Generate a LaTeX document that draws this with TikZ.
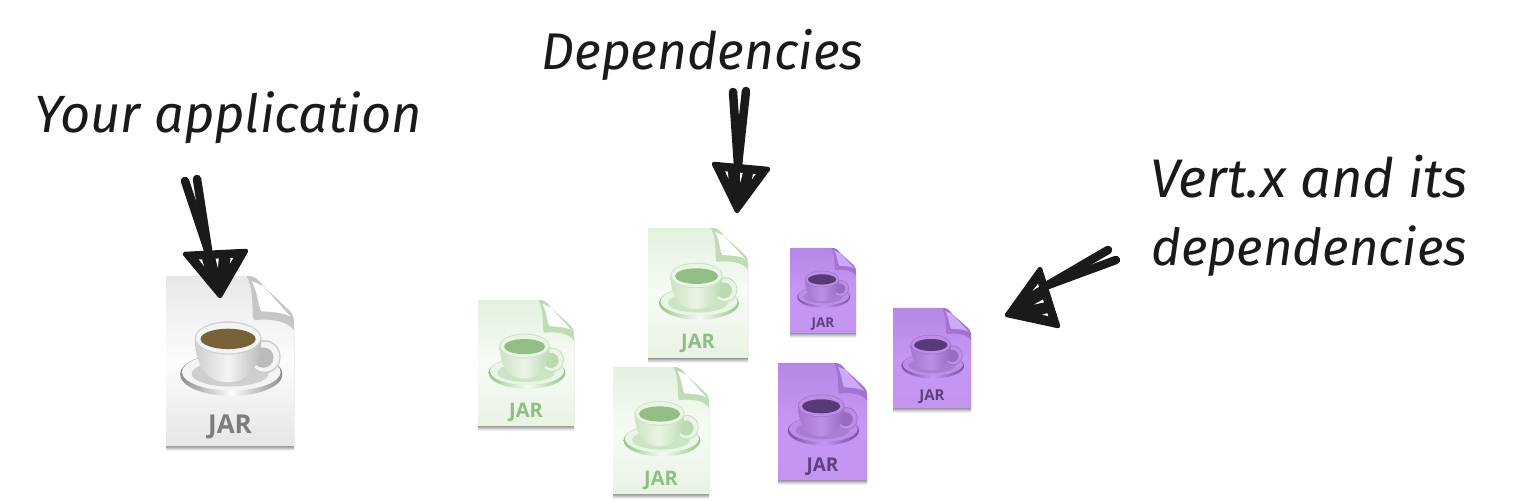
\documentclass[tikz,border=0pt]{standalone}
\usepackage{fontspec}
\setmainfont{Fira Sans}
\newfontfamily\jarfont{Open Sans}
\usetikzlibrary{calc}
\definecolor{wTop}{HTML}{E8E8E8}\definecolor{wMid}{HTML}{FCFCFC}\definecolor{wBot}{HTML}{E6E6E6}
\definecolor{wFold}{HTML}{FFFFFF}\definecolor{wFoldD}{HTML}{BCBCBC}\definecolor{wCupL}{HTML}{F4F4F4}\definecolor{wCupD}{HTML}{8C8C8C}
\definecolor{wSauc}{HTML}{CFCFCF}\definecolor{wCof}{HTML}{7A6238}\definecolor{wTxt}{HTML}{7C7C7C}
\definecolor{gTop}{HTML}{E3F1DE}\definecolor{gMid}{HTML}{F7FBF5}\definecolor{gBot}{HTML}{E8F3E3}
\definecolor{gFold}{HTML}{FFFFFF}\definecolor{gFoldD}{HTML}{B4D6AB}\definecolor{gCupL}{HTML}{E9F5E5}\definecolor{gCupD}{HTML}{96C48A}
\definecolor{gSauc}{HTML}{CBE4C4}\definecolor{gCof}{HTML}{92BE85}\definecolor{gTxt}{HTML}{8FBE84}
\definecolor{pTop}{HTML}{B688E6}\definecolor{pMid}{HTML}{C596F4}\definecolor{pBot}{HTML}{C394F2}
\definecolor{pFold}{HTML}{CFA8F8}\definecolor{pFoldD}{HTML}{9A6EC8}\definecolor{pCupL}{HTML}{BC8EE8}\definecolor{pCupD}{HTML}{7A4EA2}
\definecolor{pSauc}{HTML}{A97CD6}\definecolor{pCof}{HTML}{583A78}\definecolor{pTxt}{HTML}{5E3F80}
\definecolor{ink}{HTML}{1A1A1A}
\tikzset{
  handtext/.style={font=\fontsize{#1}{#1}\selectfont\itshape,text=ink,inner sep=0pt,anchor=base},
  inkstroke/.style={draw=ink,line cap=round,line join=round,line width=8.5pt},
  inkhead/.style={fill=ink,draw=ink,line join=round,line width=4.5pt},
  sliver/.style={fill=white,draw=none},
}
\newcommand{\jarpath}{(0,0) -- (.63,0) .. controls (.7,0) and (.72,.02) .. (.76,.06) -- (.96,.2)
    .. controls (1,.23) and (1,.25) .. (1,.3) -- (1,1) -- (0,1) -- cycle}
% name, x, y, w, h, palette, font size
\newcommand{\jaricon}[7]{%
 \begin{scope}[shift={(#2,#3)},x=#4pt,y=-#5pt]
  \foreach \o/\e in {5/.05,4/.07,3/.09,2/.12,1/.16}{
   \fill[black,opacity=\e,yshift=-\o pt] \jarpath;}
  \shade[top color=#6Top,bottom color=#6Bot,middle color=#6Mid] \jarpath;
  \fill[#6FoldD,opacity=.8] (.63,0) .. controls (.7,.1) and (.66,.24) .. (.69,.26) .. controls (.8,.25) and (.95,.26) .. (1,.32) .. controls (1,.25) and (1,.23) .. (.96,.2) -- (.76,.06) .. controls (.72,.02) and (.7,0) .. (.63,0) -- cycle;
  \fill[#6Fold] (.67,.03) .. controls (.72,.1) and (.72,.18) .. (.745,.208) .. controls (.82,.21) and (.92,.215) .. (.97,.238) -- (.76,.06) -- cycle;
  % saucer
  \shade[left color=#6CupD,right color=#6CupD,middle color=#6Mid] (.51,.578) ellipse [x radius=.4,y radius=.127];
  \fill[#6CupL] (.51,.565) ellipse [x radius=.385,y radius=.108];
  \fill[#6Sauc] (.5,.575) ellipse [x radius=.3,y radius=.075];
  % handle
  \fill[#6CupD!40!#6CupL] (.77,.475) ellipse [x radius=.125,y radius=.098];
  \fill[#6CupL] (.77,.475) ellipse [x radius=.115,y radius=.088];
  \fill[#6CupD!55!#6CupL] (.76,.48) ellipse [x radius=.08,y radius=.06];
  % cup
  \shade[left color=#6CupD!35!#6CupL,right color=#6CupD!55!#6CupL,middle color=#6CupL]
    (.225,.365) .. controls (.225,.5) and (.3,.625) .. (.485,.625) .. controls (.67,.625) and (.745,.5) .. (.745,.365) -- cycle;
  \fill[#6CupD!35!#6CupL] (.485,.365) ellipse [x radius=.26,y radius=.098];
  \fill[#6CupL] (.485,.365) ellipse [x radius=.25,y radius=.09];
  \fill[#6Cof] (.485,.37) ellipse [x radius=.215,y radius=.06];
  \node[font=\jarfont\fontsize{#7}{#7}\selectfont\bfseries,text=#6Txt,inner sep=0pt] (#1) at (.5,.89) {JAR};
 \end{scope}}
% tail1, tail2, neck, barbL, barbR, tip
\newcommand{\handarrow}[6]{%
 \draw[inkstroke] (#1) -- (#3);
 \draw[inkstroke] (#2) -- (#3);
 \fill[inkhead] (#4) .. controls ($(#4)!.5!(#5)$) .. (#5) .. controls ($(#5)!.6!(#6)$) .. (#6) .. controls ($(#4)!.6!(#6)$) .. (#4) -- cycle;
 \foreach \f/\len in {.2/.3,.52/.36,.8/.26}{
  \fill[sliver] ($(#4)!\f-.03!(#5)!.14!(#6)$) -- ($(#4)!\f+.03!(#5)!.14!(#6)$) -- ($($(#4)!\f!(#5)$)!\len!(#6)$) -- cycle;}
}
\begin{document}
\begin{tikzpicture}[x=1pt,y=-1pt]
 \useasboundingbox[fill=white] (0,0) rectangle (1523,502);
 \jaricon{jarApp}{166}{276}{128}{170}{w}{26}
 \jaricon{jarG1}{478}{300}{96}{126}{g}{20}
 \jaricon{jarG2}{648}{228}{100}{130}{g}{20}
 \jaricon{jarG3}{613}{367}{96}{127}{g}{20}
 \jaricon{jarP1}{790}{248}{66}{85}{p}{13.5}
 \jaricon{jarP2}{778}{363}{89}{117}{p}{19}
 \jaricon{jarP3}{893}{308}{78}{100}{p}{15}
 \node[handtext=52.4] (lblApp) at (228.5,133) {Your application};
 \node[handtext=51.6] (lblDep) at (702.5,70) {Dependencies};
 \node[handtext=54.3] (lblVert1) at (1309,198) {Vert.x and its};
 \node[handtext=51] (lblVert2) at (1309,266) {dependencies};
 \coordinate (aT1) at (185,181); \coordinate (aT2) at (197,179); \coordinate (aN) at (208,250);
 \coordinate (aL) at (185,254); \coordinate (aR) at (246,251); \coordinate (aTip) at (220,296);
 \handarrow{aT1}{aT2}{aN}{aL}{aR}{aTip}
 \coordinate (bT1) at (733,92); \coordinate (bT2) at (746,91); \coordinate (bN) at (738,165);
 \coordinate (bL) at (714,164); \coordinate (bR) at (768,169); \coordinate (bTip) at (737,211);
 \handarrow{bT1}{bT2}{bN}{bL}{bR}{bTip}
 \coordinate (cT1) at (1108,250); \coordinate (cT2) at (1116,260); \coordinate (cN) at (1048,285);
 \coordinate (cL) at (1040,269); \coordinate (cR) at (1058,326); \coordinate (cTip) at (1007,315);
 \handarrow{cT1}{cT2}{cN}{cL}{cR}{cTip}
\end{tikzpicture}
\end{document}
